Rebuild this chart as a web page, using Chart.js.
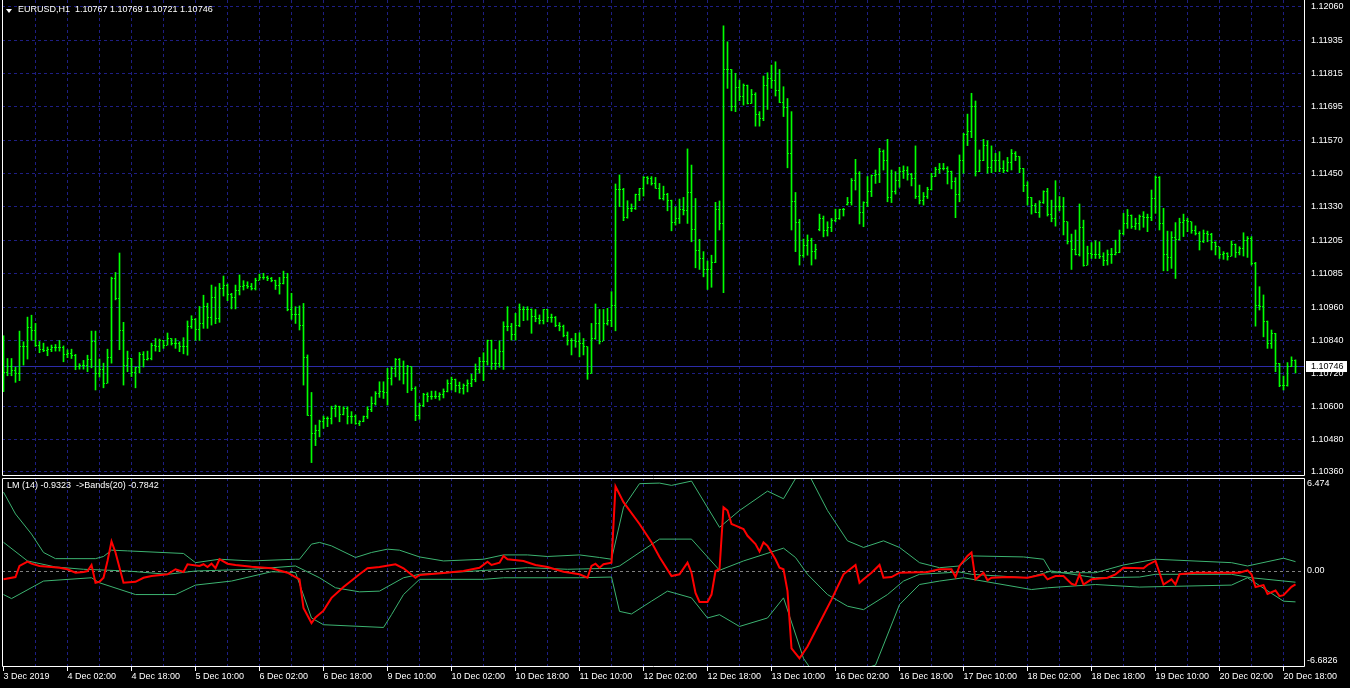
<!DOCTYPE html>
<html>
<head>
<meta charset="utf-8">
<title>EURUSD,H1</title>
<script src="https://cdn.jsdelivr.net/npm/chart.js@4.4.1/dist/chart.umd.min.js"></script>
<style>
  html, body { margin: 0; padding: 0; background: #000; }
  body { width: 1350px; height: 688px; position: relative; overflow: hidden; font-family: 'Liberation Sans', Arial, sans-serif; }
  canvas { position: absolute; left: 0; }
  #main { top: 0; }
  #lm { top: 476px; }
  .label { position: absolute; color: #fff; font-size: 9px; line-height: 11px; white-space: pre; }
  .tri { position: absolute; left: 6px; top: 9px; width: 0; height: 0;
         border-left: 3px solid transparent; border-right: 3px solid transparent; border-top: 4px solid #fff; }
</style>
</head>
<body>
<canvas id="main" width="1350" height="476"></canvas>
<canvas id="lm" width="1350" height="212"></canvas>
<div class="tri"></div>
<div class="label" id="hdr" style="left:18px; top:4px;"></div>
<div class="label" id="lmhdr" style="left:7px; top:480px;"></div>
<script>
const symbol = 'EURUSD,H1';

// time axis labels, one every 16 hourly bars
const timeLabels = ['3 Dec 2019', '4 Dec 02:00', '4 Dec 18:00', '5 Dec 10:00', '6 Dec 02:00', '6 Dec 18:00',
  '9 Dec 10:00', '10 Dec 02:00', '10 Dec 18:00', '11 Dec 10:00', '12 Dec 02:00', '12 Dec 18:00',
  '13 Dec 10:00', '16 Dec 02:00', '16 Dec 18:00', '17 Dec 10:00', '18 Dec 02:00', '18 Dec 18:00',
  '19 Dec 10:00', '20 Dec 02:00', '20 Dec 18:00'];

const priceTicks = [1.12060, 1.11935, 1.11815, 1.11695, 1.11570, 1.11450, 1.11330, 1.11205,
  1.11085, 1.10960, 1.10840, 1.10720, 1.10600, 1.10480, 1.10360];

const opens = [
  1.10745,1.10723,1.10744,1.10730,1.10721,1.10819,1.10819,1.10886,1.10876,1.10823,
  1.10807,1.10803,1.10807,1.10813,1.10814,1.10814,1.10790,1.10794,1.10786,1.10743,
  1.10750,1.10750,1.10772,1.10835,1.10721,1.10734,1.10684,1.10778,1.11066,1.10993,
  1.10876,1.10750,1.10774,1.10723,1.10742,1.10789,1.10771,1.10774,1.10821,1.10818,
  1.10838,1.10823,1.10847,1.10827,1.10827,1.10819,1.10818,1.10889,1.10917,1.10879,
  1.10901,1.10962,1.10925,1.10996,1.10920,1.11030,1.11042,1.11006,1.10997,1.11022,
  1.11036,1.11039,1.11036,1.11028,1.11060,1.11070,1.11070,1.11067,1.11058,1.11042,
  1.11048,1.11070,1.10951,1.10933,1.10933,1.10893,1.10778,1.10566,1.10501,1.10513,
  1.10543,1.10555,1.10555,1.10592,1.10598,1.10571,1.10592,1.10561,1.10564,1.10537,
  1.10543,1.10561,1.10586,1.10610,1.10647,1.10653,1.10649,1.10701,1.10738,1.10771,
  1.10744,1.10720,1.10744,1.10665,1.10565,1.10604,1.10641,1.10634,1.10637,1.10634,
  1.10644,1.10652,1.10681,1.10696,1.10674,1.10666,1.10674,1.10681,1.10698,1.10732,
  1.10762,1.10762,1.10839,1.10754,1.10756,1.10799,1.10892,1.10892,1.10860,1.10896,
  1.10951,1.10951,1.10951,1.10927,1.10920,1.10914,1.10951,1.10924,1.10924,1.10894,
  1.10890,1.10857,1.10839,1.10839,1.10835,1.10829,1.10817,1.10720,1.10847,1.10902,
  1.10835,1.10902,1.10914,1.10969,1.11389,1.11391,1.11289,1.11322,1.11322,1.11374,
  1.11395,1.11435,1.11432,1.11413,1.11395,1.11358,1.11374,1.11352,1.11271,1.11285,
  1.11319,1.11316,1.11380,1.11243,1.11170,1.11139,1.11097,1.11097,1.11125,1.11318,
  1.11267,1.11829,1.11829,1.11693,1.11764,1.11730,1.11770,1.11705,1.11739,1.11665,
  1.11650,1.11769,1.11797,1.11790,1.11751,1.11708,1.11691,1.11523,1.11346,1.11270,
  1.11151,1.11186,1.11204,1.11164,1.11245,1.11285,1.11240,1.11252,1.11279,1.11285,
  1.11318,1.11336,1.11344,1.11423,1.11450,1.11306,1.11343,1.11383,1.11441,1.11444,
  1.11529,1.11496,1.11362,1.11383,1.11425,1.11458,1.11462,1.11444,1.11431,1.11367,
  1.11352,1.11367,1.11389,1.11440,1.11464,1.11467,1.11467,1.11456,1.11419,1.11374,
  1.11495,1.11590,1.11602,1.11693,1.11458,1.11498,1.11553,1.11472,1.11498,1.11496,
  1.11468,1.11462,1.11490,1.11523,1.11511,1.11468,1.11404,1.11362,1.11334,1.11307,
  1.11343,1.11383,1.11301,1.11285,1.11328,1.11328,1.11273,1.11200,1.11172,1.11152,
  1.11253,1.11115,1.11158,1.11155,1.11152,1.11148,1.11130,1.11152,1.11152,1.11160,
  1.11231,1.11267,1.11295,1.11255,1.11267,1.11292,1.11289,1.11288,1.11359,1.11435,
  1.11265,1.11152,1.11143,1.11216,1.11210,1.11271,1.11277,1.11273,1.11241,1.11231,
  1.11200,1.11231,1.11225,1.11197,1.11182,1.11152,1.11158,1.11148,1.11191,1.11160,
  1.11176,1.11206,1.11213,1.11119,1.10969,1.10963,1.10908,1.10829,1.10866,1.10756,
  1.10677,1.10677,1.10744,1.10767];

const highs = [
  1.10857,1.10774,1.10774,1.10743,1.10874,1.10835,1.10925,1.10932,1.10902,1.10836,
  1.10830,1.10816,1.10823,1.10825,1.10840,1.10820,1.10806,1.10808,1.10789,1.10755,
  1.10767,1.10786,1.10874,1.10874,1.10772,1.10757,1.10808,1.11071,1.11088,1.11159,
  1.10906,1.10801,1.10774,1.10743,1.10796,1.10799,1.10801,1.10830,1.10847,1.10845,
  1.10840,1.10867,1.10847,1.10847,1.10835,1.10850,1.10911,1.10930,1.10920,1.10964,
  1.11005,1.10976,1.11042,1.11035,1.11048,1.11075,1.11046,1.11012,1.11042,1.11079,
  1.11058,1.11054,1.11048,1.11067,1.11082,1.11085,1.11075,1.11070,1.11060,1.11070,
  1.11093,1.11085,1.11012,1.10963,1.10966,1.10975,1.10787,1.10650,1.10531,1.10549,
  1.10564,1.10561,1.10600,1.10604,1.10600,1.10598,1.10598,1.10580,1.10568,1.10547,
  1.10564,1.10598,1.10634,1.10653,1.10689,1.10689,1.10738,1.10744,1.10774,1.10774,
  1.10765,1.10749,1.10744,1.10671,1.10610,1.10647,1.10649,1.10655,1.10655,1.10649,
  1.10663,1.10696,1.10706,1.10699,1.10688,1.10681,1.10696,1.10717,1.10754,1.10778,
  1.10795,1.10841,1.10841,1.10807,1.10839,1.10908,1.10963,1.10902,1.10939,1.10973,
  1.10963,1.10963,1.10955,1.10953,1.10933,1.10953,1.10953,1.10936,1.10927,1.10905,
  1.10896,1.10871,1.10847,1.10866,1.10868,1.10847,1.10817,1.10902,1.10973,1.10953,
  1.10953,1.10957,1.11018,1.11411,1.11444,1.11395,1.11350,1.11338,1.11374,1.11395,
  1.11438,1.11438,1.11438,1.11435,1.11413,1.11403,1.11377,1.11352,1.11328,1.11356,
  1.11362,1.11539,1.11480,1.11358,1.11209,1.11164,1.11130,1.11151,1.11344,1.11349,
  1.11988,1.11930,1.11829,1.11815,1.11790,1.11776,1.11772,1.11756,1.11744,1.11675,
  1.11805,1.11817,1.11845,1.11857,1.11829,1.11766,1.11723,1.11675,1.11380,1.11282,
  1.11210,1.11225,1.11213,1.11191,1.11301,1.11294,1.11273,1.11285,1.11319,1.11319,
  1.11322,1.11362,1.11431,1.11501,1.11456,1.11346,1.11438,1.11444,1.11462,1.11541,
  1.11535,1.11574,1.11462,1.11456,1.11472,1.11477,1.11474,1.11450,1.11550,1.11407,
  1.11380,1.11399,1.11450,1.11472,1.11486,1.11486,1.11474,1.11458,1.11434,1.11517,
  1.11596,1.11666,1.11742,1.11714,1.11535,1.11574,1.11569,1.11550,1.11523,1.11529,
  1.11496,1.11508,1.11537,1.11529,1.11511,1.11468,1.11419,1.11362,1.11340,1.11350,
  1.11386,1.11395,1.11352,1.11423,1.11365,1.11362,1.11273,1.11228,1.11243,1.11338,
  1.11279,1.11184,1.11197,1.11204,1.11200,1.11160,1.11170,1.11176,1.11206,1.11243,
  1.11304,1.11318,1.11298,1.11286,1.11298,1.11310,1.11301,1.11389,1.11440,1.11438,
  1.11322,1.11239,1.11237,1.11270,1.11286,1.11301,1.11286,1.11273,1.11258,1.11237,
  1.11243,1.11239,1.11231,1.11200,1.11180,1.11164,1.11160,1.11203,1.11192,1.11182,
  1.11233,1.11219,1.11219,1.11125,1.11036,1.11006,1.10911,1.10878,1.10866,1.10756,
  1.10710,1.10759,1.10780,1.10769];

const lows = [
  1.10653,1.10711,1.10711,1.10687,1.10693,1.10750,1.10772,1.10840,1.10818,1.10795,
  1.10799,1.10784,1.10799,1.10801,1.10801,1.10762,1.10777,1.10774,1.10733,1.10735,
  1.10735,1.10726,1.10740,1.10659,1.10706,1.10667,1.10684,1.10757,1.10988,1.10806,
  1.10677,1.10726,1.10708,1.10667,1.10721,1.10743,1.10768,1.10769,1.10801,1.10799,
  1.10811,1.10823,1.10823,1.10811,1.10799,1.10791,1.10786,1.10884,1.10840,1.10840,
  1.10884,1.10884,1.10896,1.10901,1.10906,1.11002,1.10985,1.10955,1.10955,1.11006,
  1.11024,1.11030,1.11024,1.11024,1.11060,1.11063,1.11058,1.11054,1.11026,1.11009,
  1.11046,1.10948,1.10917,1.10902,1.10878,1.10677,1.10566,1.10394,1.10456,1.10488,
  1.10519,1.10525,1.10535,1.10561,1.10543,1.10568,1.10535,1.10537,1.10534,1.10529,
  1.10543,1.10555,1.10580,1.10604,1.10632,1.10628,1.10604,1.10677,1.10707,1.10695,
  1.10681,1.10649,1.10657,1.10547,1.10552,1.10598,1.10616,1.10625,1.10628,1.10622,
  1.10630,1.10652,1.10659,1.10652,1.10648,1.10644,1.10652,1.10671,1.10689,1.10720,
  1.10693,1.10750,1.10734,1.10734,1.10742,1.10734,1.10875,1.10841,1.10841,1.10890,
  1.10912,1.10914,1.10866,1.10908,1.10900,1.10900,1.10908,1.10906,1.10890,1.10875,
  1.10853,1.10823,1.10787,1.10815,1.10780,1.10787,1.10698,1.10720,1.10844,1.10827,
  1.10839,1.10896,1.10890,1.10875,1.11328,1.11277,1.11286,1.11310,1.11318,1.11350,
  1.11367,1.11411,1.11407,1.11395,1.11356,1.11352,1.11313,1.11240,1.11261,1.11267,
  1.11298,1.11267,1.11200,1.11105,1.11099,1.11072,1.11026,1.11034,1.11124,1.11243,
  1.11014,1.11760,1.11678,1.11675,1.11715,1.11699,1.11703,1.11705,1.11622,1.11622,
  1.11642,1.11683,1.11760,1.11732,1.11708,1.11657,1.11470,1.11243,1.11164,1.11115,
  1.11143,1.11151,1.11115,1.11137,1.11240,1.11218,1.11221,1.11237,1.11273,1.11282,
  1.11294,1.11334,1.11334,1.11389,1.11265,1.11255,1.11328,1.11365,1.11413,1.11416,
  1.11462,1.11346,1.11343,1.11374,1.11399,1.11431,1.11425,1.11404,1.11358,1.11338,
  1.11334,1.11358,1.11389,1.11438,1.11450,1.11462,1.11411,1.11393,1.11288,1.11346,
  1.11450,1.11551,1.11580,1.11440,1.11456,1.11496,1.11450,1.11452,1.11456,1.11456,
  1.11452,1.11456,1.11462,1.11496,1.11452,1.11383,1.11334,1.11301,1.11306,1.11289,
  1.11340,1.11294,1.11273,1.11257,1.11313,1.11225,1.11192,1.11099,1.11152,1.11148,
  1.11111,1.11115,1.11139,1.11139,1.11139,1.11113,1.11115,1.11121,1.11152,1.11160,
  1.11225,1.11249,1.11249,1.11245,1.11243,1.11253,1.11237,1.11277,1.11304,1.11243,
  1.11094,1.11094,1.11103,1.11066,1.11206,1.11219,1.11237,1.11231,1.11225,1.11170,
  1.11197,1.11200,1.11170,1.11152,1.11139,1.11136,1.11133,1.11148,1.11143,1.11152,
  1.11148,1.11143,1.11115,1.10892,1.10951,1.10853,1.10811,1.10811,1.10726,1.10671,
  1.10659,1.10673,1.10744,1.10721];

const closes = [
  1.10723,1.10744,1.10730,1.10721,1.10819,1.10819,1.10886,1.10876,1.10823,1.10807,
  1.10803,1.10807,1.10813,1.10814,1.10814,1.10790,1.10794,1.10786,1.10743,1.10750,
  1.10750,1.10772,1.10835,1.10721,1.10734,1.10684,1.10778,1.11066,1.10993,1.10876,
  1.10750,1.10774,1.10723,1.10742,1.10789,1.10771,1.10774,1.10821,1.10818,1.10838,
  1.10823,1.10847,1.10827,1.10827,1.10819,1.10818,1.10889,1.10917,1.10879,1.10901,
  1.10962,1.10925,1.10996,1.10920,1.11030,1.11042,1.11006,1.10997,1.11022,1.11036,
  1.11039,1.11036,1.11028,1.11060,1.11070,1.11070,1.11067,1.11058,1.11042,1.11048,
  1.11070,1.10951,1.10933,1.10933,1.10893,1.10778,1.10566,1.10501,1.10513,1.10543,
  1.10555,1.10555,1.10592,1.10598,1.10571,1.10592,1.10561,1.10564,1.10537,1.10543,
  1.10561,1.10586,1.10610,1.10647,1.10653,1.10649,1.10701,1.10738,1.10771,1.10744,
  1.10720,1.10744,1.10665,1.10565,1.10604,1.10641,1.10634,1.10637,1.10634,1.10644,
  1.10652,1.10681,1.10696,1.10674,1.10666,1.10674,1.10681,1.10698,1.10732,1.10762,
  1.10762,1.10839,1.10754,1.10756,1.10799,1.10892,1.10892,1.10860,1.10896,1.10951,
  1.10951,1.10951,1.10927,1.10920,1.10914,1.10951,1.10924,1.10924,1.10894,1.10890,
  1.10857,1.10839,1.10839,1.10835,1.10829,1.10817,1.10720,1.10847,1.10902,1.10835,
  1.10902,1.10914,1.10969,1.11389,1.11391,1.11289,1.11322,1.11322,1.11374,1.11395,
  1.11435,1.11432,1.11413,1.11395,1.11358,1.11374,1.11352,1.11271,1.11285,1.11319,
  1.11316,1.11380,1.11243,1.11170,1.11139,1.11097,1.11097,1.11125,1.11318,1.11267,
  1.11829,1.11829,1.11693,1.11764,1.11730,1.11770,1.11705,1.11739,1.11665,1.11650,
  1.11769,1.11797,1.11790,1.11751,1.11708,1.11691,1.11523,1.11346,1.11270,1.11151,
  1.11186,1.11204,1.11164,1.11172,1.11285,1.11240,1.11252,1.11279,1.11285,1.11318,
  1.11319,1.11344,1.11423,1.11450,1.11306,1.11343,1.11383,1.11441,1.11444,1.11529,
  1.11496,1.11362,1.11383,1.11425,1.11458,1.11462,1.11444,1.11431,1.11367,1.11352,
  1.11367,1.11389,1.11440,1.11464,1.11467,1.11467,1.11456,1.11419,1.11374,1.11495,
  1.11590,1.11602,1.11693,1.11458,1.11498,1.11553,1.11472,1.11498,1.11496,1.11468,
  1.11462,1.11490,1.11523,1.11511,1.11468,1.11404,1.11362,1.11334,1.11307,1.11343,
  1.11383,1.11301,1.11285,1.11328,1.11328,1.11273,1.11200,1.11172,1.11152,1.11253,
  1.11115,1.11158,1.11155,1.11152,1.11148,1.11130,1.11152,1.11152,1.11160,1.11231,
  1.11267,1.11295,1.11255,1.11267,1.11292,1.11289,1.11288,1.11359,1.11435,1.11265,
  1.11152,1.11143,1.11216,1.11210,1.11271,1.11277,1.11273,1.11241,1.11231,1.11200,
  1.11231,1.11225,1.11197,1.11182,1.11152,1.11158,1.11148,1.11191,1.11160,1.11176,
  1.11206,1.11213,1.11119,1.10969,1.10963,1.10908,1.10829,1.10866,1.10756,1.10677,
  1.10677,1.10744,1.10768,1.10746];

// LM(14) oscillator, read at the bars where the line changes direction
const lmBars = [0,3,4,6,7,9,12,14,16,18,20,21,22,23,24,25,26,27,28,30,33,35,37,41,43,45,46,49,50,51,
  52,53,54,56,58,62,67,71,73,74,75,77,78,80,82,85,89,91,94,98,100,103,104,110,115,119,121,122,124,125,
  126,130,133,136,140,144,146,147,148,149,150,152,153,155,159,162,164,167,169,171,172,173,174,176,177,178,179,180,181,182,
  183,185,186,188,189,190,191,193,194,195,196,197,199,201,204,207,210,213,214,215,217,219,220,222,224,231,234,237,238,239,
  241,242,243,245,246,247,251,256,260,261,263,265,267,268,269,270,272,276,278,280,285,286,288,290,292,293,294,298,305,309,
  311,312,313,315,316,318,319,320,322,323];
const lmValues = [-0.58,-0.42,0.35,0.65,0.51,0.35,0.28,0.23,0.12,-0.12,-0.07,0,0.42,-0.82,-0.75,-0.47,0.70,2.06,1.29,-0.82,
  -0.75,-0.47,-0.35,-0.23,0.12,-0.07,0.47,0.35,0.47,0.28,0.51,0.19,0.82,0.51,0.42,0.30,0.19,-0.12,-0.42,-0.58,
  -2.57,-3.62,-3.23,-2.76,-1.87,-1.12,-0.23,0.19,0.28,0.47,0.19,-0.47,-0.28,-0.14,0,0.23,0.65,0.42,0.58,1.05,
  0.82,0.70,0.42,0.28,-0.05,-0.23,-0.47,0.35,0.51,0.23,0.47,0.58,5.89,4.79,3.27,2.00,0.98,-0.35,-0.23,0.58,
  -0.12,-1.52,-2.15,-2.15,-1.64,0,0.12,4.44,4.21,3.27,3.16,2.92,2.45,1.87,1.36,1.99,1.75,0.82,0.23,0.12,
  -1.40,-5.38,-6.08,-5.26,-3.62,-1.99,-0.23,0.42,-0.82,-0.58,-0.12,0.42,-0.47,-0.42,-0.12,-0.07,0.12,0.12,-0.42,0.35,
  1.05,1.29,-0.58,-0.12,-0.65,-0.47,-0.42,-0.47,-0.23,-0.58,-0.35,-0.35,-0.89,-0.98,-0.23,-0.94,-0.58,-0.47,-0.23,0.23,
  0.19,0.42,0.70,-0.94,-0.58,-0.94,-0.23,-0.12,-0.12,-0.12,0.05,-0.23,-1.12,-0.98,-1.59,-1.36,-1.75,-1.68,-1.10,-0.93];

// Bands(20) on the LM line
const upperBars = [0,3,7,10,13,23,25,27,31,45,48,54,62,73,74,77,79,82,88,92,96,99,104,110,120,125,131,136,144,149,
  152,155,159,164,167,172,179,184,191,195,199,201,206,211,215,220,224,229,234,239,242,255,260,262,273,280,288,307,311,320,323];
const upperValues = [5.49,3.97,2.57,1.29,0.86,0.86,1.01,1.45,1.40,1.22,0.58,0.82,0.70,0.82,0.82,1.87,1.99,1.75,0.94,1.29,
  1.52,1.45,0.98,0.70,0.82,1.12,1.12,1.01,1.12,0.94,0.82,4.44,6.08,6.12,5.96,6.26,3.04,4.21,5.56,5.03,
  6.90,6.90,4.21,2.10,1.64,2.10,1.64,0.58,0.23,0.35,1.05,0.98,0.82,-0.12,-0.12,0.42,0.82,0.58,0.35,0.89,0.65];
const middleBars = [0,6,13,20,31,41,48,62,73,79,83,89,94,100,104,115,131,141,152,154,164,172,179,185,195,198,201,206,211,215,
  221,225,229,239,242,256,262,273,284,288,307,312,323];
const middleValues = [2.00,0.70,0.28,0.12,0,-0.23,0,0.12,0.35,-0.47,-1.17,-1.45,-1.40,-0.47,-0.23,-0.05,0.23,0.12,0.19,0.35,
  2.22,2.22,0.05,0.70,1.59,0.94,-0.23,-1.64,-2.45,-2.69,-1.64,-0.70,-0.23,-0.07,-0.23,-0.47,0,-0.47,-0.42,-0.23,-0.23,-0.47,-0.78];
const lowerBars = [0,2,10,22,24,33,43,48,57,67,73,77,80,95,97,100,104,120,125,144,152,154,157,162,166,172,176,179,184,191,
  195,200,203,208,213,218,224,229,234,240,257,261,273,284,307,311,320,323];
const lowerValues = [-1.64,-1.92,-0.70,-0.47,-0.82,-1.64,-1.64,-0.98,-0.70,-0.05,-0.10,-3.27,-3.74,-3.93,-3.04,-1.64,-0.58,-0.58,-0.47,-0.47,
  -0.42,-2.81,-2.99,-2.10,-1.40,-1.87,-3.27,-3.04,-3.86,-3.27,-1.87,-6.08,-7.30,-7.30,-7.00,-6.55,-2.34,-0.94,-0.70,-0.47,
  -1.29,-1.17,-0.94,-1.12,-0.98,-0.47,-2.10,-2.15];

const lmLast = -0.9323;
const bandLast = -0.7842;
const lmScaleValues = [6.474, 0, -6.6826];
const lmScaleLabels = ['6.474', '0.00', '-6.6826'];

const GREEN = '#00ff00';
const GRID = '#1e1e84';
const BAND = '#3cb371';
const X_MIN = -0.375, X_MAX = 325.125;
const PRICE_MIN = 1.1034875, PRICE_MAX = 1.120825;
const FONT = "'Liberation Sans', Arial, sans-serif";

Chart.defaults.font.family = FONT;
Chart.defaults.font.size = 9;
Chart.defaults.color = '#ffffff';

const last = closes.length - 1;
document.getElementById('hdr').textContent = symbol + '  ' + [opens[last], highs[last], lows[last], closes[last]].map(v => v.toFixed(5)).join(' ');
document.getElementById('lmhdr').textContent = 'LM (14) ' + lmLast.toFixed(4) + '  ->Bands(20) ' + bandLast.toFixed(4);

function noPad(s) {
    s.paddingLeft = 0; s.paddingRight = 0; s.paddingTop = 0; s.paddingBottom = 0;
}

const frame = {
    id: 'frame',
    afterDraw(chart, args, opts) {
        const { ctx, chartArea: a } = chart;
        ctx.save();
        ctx.strokeStyle = '#ffffff';
        ctx.lineWidth = 1;
        ctx.beginPath();
        const yb = opts.bottomInside ? a.bottom - 0.5 : a.bottom + 0.5;
        const yt = opts.top ? a.top + 0.5 : a.top;
        if (opts.top) {
            ctx.moveTo(a.left + 0.5, yt);
            ctx.lineTo(a.right + 0.5, yt);
        }
        ctx.moveTo(a.left + 0.5, yt);
        ctx.lineTo(a.left + 0.5, yb);
        ctx.lineTo(a.right + 0.5, yb);
        ctx.lineTo(a.right + 0.5, yt);
        ctx.stroke();
        ctx.restore();
    }
};

// open / close ticks of the bars, bid line and price box
const ohlc = {
    id: 'ohlc',
    beforeDatasetsDraw(chart) {
        const { ctx, chartArea: a, scales: { y } } = chart;
        const yy = Math.round(y.getPixelForValue(closes[last])) + 0.5;
        ctx.save();
        ctx.strokeStyle = '#2c2ca8';
        ctx.lineWidth = 1;
        ctx.beginPath();
        ctx.moveTo(a.left, yy);
        ctx.lineTo(a.right, yy);
        ctx.stroke();
        ctx.restore();
    },
    afterDatasetsDraw(chart) {
        const { ctx, scales: { x, y } } = chart;
        ctx.save();
        ctx.fillStyle = GREEN;
        for (let i = 0; i < closes.length; i++) {
            const cx = Math.round(x.getPixelForValue(i) - 0.5);
            ctx.fillRect(cx - 1, Math.floor(y.getPixelForValue(opens[i])), 1, 1);
            ctx.fillRect(cx + 1, Math.floor(y.getPixelForValue(closes[i])), 1, 1);
        }
        ctx.restore();
    },
    afterDraw(chart) {
        const { ctx, chartArea: a, scales: { y } } = chart;
        const yy = Math.round(y.getPixelForValue(closes[last]));
        ctx.save();
        ctx.fillStyle = '#ffffff';
        ctx.fillRect(a.right + 2, yy - 5, 41, 11);
        ctx.fillStyle = '#000000';
        ctx.font = '9px ' + FONT;
        ctx.textBaseline = 'middle';
        ctx.fillText(closes[last].toFixed(5), a.right + 7, yy + 0.5);
        ctx.restore();
    }
};

const lmAxisLabels = {
    id: 'lmAxisLabels',
    afterDraw(chart) {
        const { ctx, chartArea: a, scales: { y } } = chart;
        ctx.save();
        ctx.fillStyle = '#ffffff';
        ctx.font = '9px ' + FONT;
        ctx.textBaseline = 'middle';
        lmScaleValues.forEach((v, i) => {
            const py = Math.min(Math.max(y.getPixelForValue(v), a.top + 6), a.bottom - 6);
            ctx.fillText(lmScaleLabels[i], a.right + 3, py);
        });
        ctx.restore();
    }
};

new Chart(document.getElementById('main'), {
    type: 'bar',
    data: {
        datasets: [{
            data: highs.map((h, i) => ({ x: i, y: [lows[i], h] })),
            backgroundColor: GREEN,
            borderWidth: 0,
            borderSkipped: false,
            barThickness: 1
        }]
    },
    options: {
        responsive: false,
        devicePixelRatio: 1,
        animation: false,
        events: [],
        layout: { padding: { left: 2, top: 0, right: 0, bottom: 1 } },
        plugins: { legend: { display: false }, tooltip: { enabled: false }, frame: { top: false, bottomInside: false } },
        scales: {
            x: {
                type: 'linear',
                min: X_MIN,
                max: X_MAX,
                offset: false,
                afterBuildTicks: (s) => {
                    const t = [];
                    for (let v = 8; v <= 320; v += 8) t.push({ value: v });
                    s.ticks = t;
                },
                afterFit: (s) => { s.height = 0; noPad(s); },
                ticks: { display: false },
                grid: { color: GRID, drawTicks: false, offset: false },
                border: { display: false, dash: [3, 3] }
            },
            y: {
                position: 'right',
                min: PRICE_MIN,
                max: PRICE_MAX,
                afterBuildTicks: (s) => { s.ticks = priceTicks.map(v => ({ value: v })); },
                afterFit: (s) => { s.width = 46; noPad(s); },
                ticks: { padding: 7, color: '#ffffff', callback: (v) => v.toFixed(5) },
                grid: { color: GRID, drawTicks: false },
                border: { display: false, dash: [3, 3] }
            }
        }
    },
    plugins: [ohlc, frame]
});

const pts = (bars, vals) => bars.map((b, i) => ({ x: b, y: vals[i] }));

new Chart(document.getElementById('lm'), {
    type: 'line',
    data: {
        datasets: [
            { data: pts(lmBars, lmValues), borderColor: '#ff0000', borderWidth: 2, pointRadius: 0, tension: 0 },
            { data: pts(upperBars, upperValues), borderColor: BAND, borderWidth: 1, pointRadius: 0, tension: 0 },
            { data: pts(middleBars, middleValues), borderColor: BAND, borderWidth: 1, pointRadius: 0, tension: 0 },
            { data: pts(lowerBars, lowerValues), borderColor: BAND, borderWidth: 1, pointRadius: 0, tension: 0 }
        ]
    },
    options: {
        responsive: false,
        devicePixelRatio: 1,
        animation: false,
        events: [],
        layout: { padding: { left: 2, top: 2, right: 0, bottom: 0 } },
        plugins: { legend: { display: false }, tooltip: { enabled: false }, frame: { top: true, bottomInside: true } },
        scales: {
            x: {
                type: 'linear',
                min: X_MIN,
                max: X_MAX,
                afterBuildTicks: (s) => {
                    const t = [];
                    for (let v = 0; v <= 320; v += 8) t.push({ value: v });
                    s.ticks = t;
                },
                afterFit: (s) => { s.height = 21; noPad(s); },
                ticks: {
                    autoSkip: false,
                    maxRotation: 0,
                    align: 'start',
                    padding: 0,
                    color: '#ffffff',
                    callback: (v) => (v % 16 === 0 ? timeLabels[v / 16] : '')
                },
                grid: {
                    color: (c) => (c.tick && c.tick.value === 0 ? 'rgba(0,0,0,0)' : GRID),
                    tickColor: (c) => (c.tick && c.tick.value % 16 === 0 ? '#ffffff' : 'rgba(0,0,0,0)'),
                    tickLength: 4
                },
                border: { display: false, dash: [3, 3] }
            },
            y: {
                position: 'right',
                min: lmScaleValues[2],
                max: lmScaleValues[0],
                afterBuildTicks: (s) => { s.ticks = [{ value: 0 }]; },
                afterFit: (s) => { s.width = 46; noPad(s); },
                ticks: { display: false },
                grid: { color: '#808080', drawTicks: false },
                border: { display: false, dash: [3, 3] }
            }
        }
    },
    plugins: [lmAxisLabels, frame]
});
</script>
</body>
</html>
